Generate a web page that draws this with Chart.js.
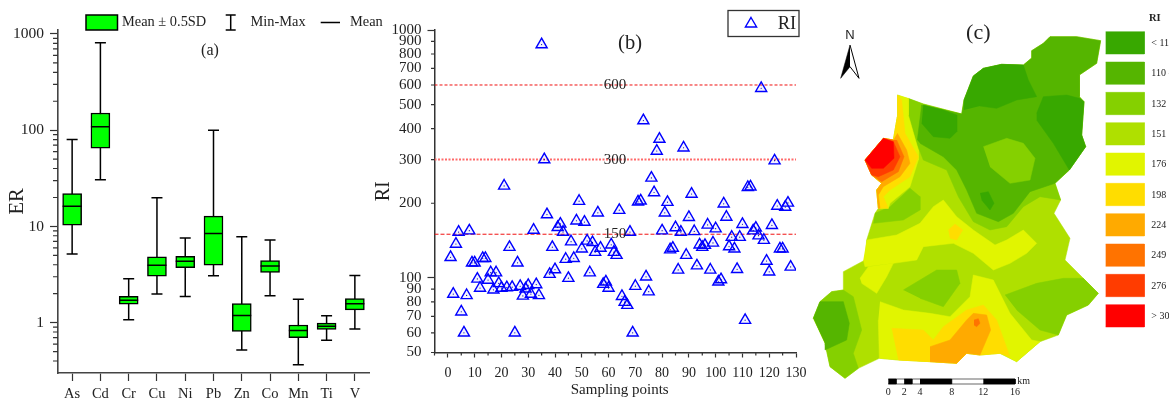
<!DOCTYPE html>
<html>
<head>
<meta charset="utf-8">
<script src="https://cdn.jsdelivr.net/npm/chart.js@4"></script>
<style>
html, body { margin: 0; background: #fff; overflow: hidden; }
canvas { position: absolute; left: 0; top: 0; filter: blur(0.3px); }
</style>
</head>
<body>
<canvas id="chartA" width="1169" height="400"></canvas>
<canvas id="chartB" width="1169" height="400"></canvas>
<canvas id="chartC" width="1169" height="400"></canvas>
<script>
// panel (a) - ER per element
var elements = ['As', 'Cd', 'Cr', 'Cu', 'Ni', 'Pb', 'Zn', 'Co', 'Mn', 'Ti', 'V'];
var erMin = [5.18, 30.6, 1.07, 1.99, 1.87, 3.07, 0.519, 1.9, 0.366, 0.658, 0.86];
var erMax = [80, 809, 2.86, 19.9, 7.57, 100, 7.81, 7.21, 1.75, 1.18, 3.1];
var erLow = [10.3, 65, 1.56, 3.05, 3.72, 3.96, 0.81, 3.32, 0.7, 0.853, 1.36];
var erHigh = [22, 151, 1.88, 4.82, 4.9, 12.8, 1.58, 4.42, 0.946, 0.99, 1.78];
var erMean = [16.2, 108.6, 1.71, 3.96, 4.35, 8.45, 1.19, 3.89, 0.83, 0.92, 1.57];
var erMajorTicks = [1, 10, 100, 1000];
var erMinorTicks = [0.4, 0.5, 0.6, 0.7, 0.8, 0.9, 2, 3, 4, 5, 6, 7, 8, 9, 20, 30, 40, 50, 60, 70, 80, 90, 200, 300, 400, 500, 600, 700, 800, 900];

// panel (b) - RI for sampling points 1..128
var riValues = [
	121, 86, 137, 153, 73, 60, 85, 155, 115, 115,
	99, 91, 120, 120, 98, 105, 89.5, 105, 95, 91,
	235, 91.4, 133, 91.7, 60, 115, 92.5, 84.6, 90.3, 93.4,
	86, 156, 94, 85, 873, 300, 180, 103.5, 133, 108,
	160, 165, 153, 119, 99.7, 140, 120, 170, 204, 131,
	168, 141, 105, 139, 127, 183, 132, 94.3, 96.4, 91,
	136, 127, 123.5, 187.5, 84.3, 79.8, 77.6, 153, 60, 92.6,
	202.6, 204.5, 431, 101, 88, 253, 221, 325, 363, 155,
	183, 202, 130, 132, 159.5, 107.7, 153, 335, 123.5, 175.6,
	218, 154, 112, 136, 133, 135.5, 163.6, 107.7, 138.4, 158,
	96.4, 98.5, 199, 176, 133.7, 146, 131, 108.3, 146, 164.6,
	67.5, 232, 233, 155, 159, 148, 582, 142, 117, 105.8,
	163, 297, 195, 131, 131, 193, 200.6, 110.7
];
var riLabelled = [50, 60, 70, 80, 90, 100, 200, 300, 400, 500, 600, 700, 800, 900, 1000];
var riLongTicks = [100, 1000];
var riLevels = [600, 300, 150];
var riXTicksMinor = [-5, 5, 15, 25, 35, 45, 55, 65, 75, 85, 95, 105, 115, 125];

// panel (c) - risk map, outlines are in map units
var mapColors = {
	c110: '#38a800', c132: '#55b500', c151: '#85d000', c176: '#afe000', c198: '#e1f500',
	c224: '#ffdd00', c249: '#ffaa00', c276: '#ff7300', c300: '#ff3c00', c301: '#ff0000'
};
var mapOutline = [[262,285],[340,312],[455,342],[462,300],[490,228],[520,205],[575,193],[640,195],[664,175],[665,152],[700,130],[720,110],[800,110],[872,122],[860,190],[808,225],[808,290],[822,305],[815,405],[827,440],[778,510],[735,550],[752,600],[732,640],[780,715],[765,780],[820,835],[865,880],[835,915],[770,945],[745,1005],[690,1025],[620,1085],[570,1060],[510,1065],[470,1060],[440,1090],[360,1085],[265,1080],[208,1075],[145,1105],[105,1135],[60,1100],[45,1030],[10,955],[30,905],[65,875],[100,870],[100,815],[165,780],[170,720],[195,640],[205,625],[200,570],[215,550],[185,525],[165,480],[220,415],[250,420],[262,350]];
var mapBands = [
	['c176', mapOutline],
	['c151', [[295,295],[340,312],[455,342],[735,550],[752,600],[690,590],[640,620],[590,680],[540,690],[490,665],[445,590],[410,510],[340,480],[320,430],[295,350]]],
	['c151', [[195,640],[240,620],[300,565],[330,590],[330,630],[280,660],[190,670]]],
	['c151', [[280,870],[380,810],[440,810],[450,850],[400,920],[330,895]]],
	['c151', [[585,885],[680,850],[760,835],[820,835],[865,880],[835,915],[770,945],[745,1005],[690,990],[620,930]]],
	['c151', [[10,955],[30,905],[65,875],[100,870],[130,890],[155,990],[130,1060],[145,1105],[105,1135],[60,1100],[45,1030]]],
	['c132', [[322,420],[335,315],[455,342],[462,300],[490,228],[520,205],[575,193],[640,195],[664,175],[665,152],[700,130],[720,110],[800,110],[872,122],[860,190],[808,225],[808,290],[822,305],[815,405],[827,440],[778,510],[735,550],[660,575],[610,640],[565,665],[500,640],[470,570],[440,510],[400,470],[330,430]]],
	['c132', [[10,955],[30,905],[100,905],[118,970],[110,1020],[45,1050],[45,1030]]],
	['c151', [[520,440],[590,415],[640,430],[675,475],[660,540],[600,550],[540,500]]],
	['c110', [[462,330],[462,300],[490,228],[520,205],[575,193],[640,195],[655,240],[680,290],[620,300],[560,325],[510,318]]],
	['c110', [[680,340],[700,290],[770,285],[808,295],[822,305],[815,405],[827,440],[778,510],[730,430],[680,360]]],
	['c110', [[340,315],[400,330],[440,345],[440,395],[420,415],[370,410],[335,370]]],
	['c110', [[510,580],[535,575],[552,610],[540,630],[515,600]]],
	['c198', [[262,285],[295,295],[295,345],[325,450],[325,480],[300,560],[240,610],[235,625],[205,625],[200,570],[215,550],[185,525],[165,480],[220,415],[250,420],[262,350]]],
	['c198', [[170,720],[260,705],[330,670],[370,620],[400,600],[440,650],[490,690],[555,735],[590,720],[640,690],[680,730],[650,760],[600,790],[550,810],[490,760],[430,730],[340,740],[320,780],[250,790],[165,800],[160,780]]],
	['c198', [[150,835],[175,800],[250,790],[230,830],[200,880],[155,850]]],
	['c198', [[210,905],[280,930],[360,940],[420,950],[480,890],[490,825],[550,840],[580,900],[600,940],[665,1020],[690,1025],[620,1085],[570,1060],[510,1065],[470,1060],[440,1090],[360,1085],[265,1080],[208,1075],[205,960]]],
	['c224', [[262,285],[275,300],[285,400],[325,470],[300,530],[240,570],[220,590],[235,625],[205,625],[200,570],[215,550],[185,525],[165,480],[220,415],[250,420],[262,350]]],
	['c224', [[415,690],[435,672],[458,690],[440,720],[420,715]]],
	['c224', [[245,985],[340,990],[370,1020],[400,980],[470,930],[520,915],[560,960],[600,1070],[570,1060],[510,1065],[470,1060],[440,1090],[360,1085],[265,1080]]],
	['c249', [[262,400],[290,450],[300,490],[270,530],[220,560],[205,585],[210,625],[205,625],[200,570],[215,550],[185,525],[165,480],[220,415],[250,420]]],
	['c249', [[360,1040],[420,1020],[470,960],[490,940],[530,945],[542,990],[510,1065],[470,1060],[440,1090],[360,1085]]],
	['c276', [[260,420],[282,470],[265,515],[215,545],[185,525],[165,480],[220,415],[250,420]]],
	['c276', [[492,960],[505,956],[510,970],[500,980],[492,975]]],
	['c300', [[250,425],[270,470],[250,510],[205,530],[185,525],[165,480],[220,415]]],
	['c301', [[220,415],[250,425],[252,475],[220,505],[185,505],[165,480]]]
];
var legendKeys = ['c110', 'c132', 'c151', 'c176', 'c198', 'c224', 'c249', 'c276', 'c300', 'c301'];
var legendLabels = ['< 11', '110 -', '132 -', '151 -', '176 -', '198 -', '224 -', '249 -', '276 -', '> 30'];
var kmTicks = [0, 2, 4, 8, 12, 16];
var kmBlack = [[0, 1], [2, 3], [4, 8], [12, 16]];

var SERIF = '"Liberation Serif", "Times New Roman", serif';
var INK = '#222';

function drawTexts(chart, items) {
	var ctx = chart.ctx;
	ctx.save();
	ctx.fillStyle = INK;
	ctx.textBaseline = 'middle';
	items.forEach(function(t) {
		ctx.font = t[3];
		ctx.textAlign = t[4] || 'left';
		ctx.fillText(t[0], t[1], t[2]);
	});
	ctx.restore();
}

// Chart.js has one tick length per axis, the short ones are drawn here
function drawShortTicks(chart, scale, values, length) {
	var ctx = chart.ctx;
	ctx.save();
	ctx.strokeStyle = '#333';
	ctx.lineWidth = 1.2;
	ctx.beginPath();
	values.forEach(function(v) {
		var p = scale.getPixelForValue(v);
		if (scale.isHorizontal()) {
			ctx.moveTo(p, scale.top);
			ctx.lineTo(p, scale.top + length);
		} else {
			ctx.moveTo(scale.right, p);
			ctx.lineTo(scale.right - length, p);
		}
	});
	ctx.stroke();
	ctx.restore();
}

var boxPlugin = {
	id: 'boxParts',
	beforeDatasetsDraw: function(chart) {
		var ctx = chart.ctx, x = chart.scales.x, y = chart.scales.y;
		ctx.save();
		ctx.strokeStyle = '#000';
		ctx.lineWidth = 1.5;
		ctx.beginPath();
		elements.forEach(function(name, i) {
			var px = x.getPixelForValue(i);
			ctx.moveTo(px, y.getPixelForValue(erMin[i]));
			ctx.lineTo(px, y.getPixelForValue(erMax[i]));
			[erMin[i], erMax[i]].forEach(function(v) {
				ctx.moveTo(px - 5.5, y.getPixelForValue(v));
				ctx.lineTo(px + 5.5, y.getPixelForValue(v));
			});
		});
		ctx.stroke();
		ctx.restore();
	},
	afterDatasetsDraw: function(chart) {
		var ctx = chart.ctx, x = chart.scales.x, y = chart.scales.y;
		ctx.save();
		ctx.strokeStyle = '#000';
		ctx.lineWidth = 1.5;
		ctx.beginPath();
		elements.forEach(function(name, i) {
			var px = x.getPixelForValue(i);
			ctx.moveTo(px - 9.5, y.getPixelForValue(erMean[i]));
			ctx.lineTo(px + 9.5, y.getPixelForValue(erMean[i]));
		});
		// legend keys
		ctx.moveTo(230.7, 15);
		ctx.lineTo(230.7, 30);
		ctx.moveTo(225.7, 15);
		ctx.lineTo(235.7, 15);
		ctx.moveTo(225.7, 30);
		ctx.lineTo(235.7, 30);
		ctx.moveTo(320.7, 22.5);
		ctx.lineTo(340, 22.5);
		ctx.stroke();
		ctx.fillStyle = '#00ff00';
		ctx.fillRect(86, 15, 31.5, 15);
		ctx.strokeRect(86, 15, 31.5, 15);
		ctx.restore();
		drawShortTicks(chart, y, erMinorTicks, 5);
		drawTexts(chart, [
			['Mean \u00b1 0.5SD', 122, 22.5, '14.4px ' + SERIF],
			['Min-Max', 250.5, 22.5, '14.4px ' + SERIF],
			['Mean', 350, 22.5, '14.4px ' + SERIF],
			['(a)', 210, 51, '16px ' + SERIF, 'center']
		]);
	}
};

new Chart(document.getElementById('chartA'), {
	type: 'bar',
	data: {
		labels: elements,
		datasets: [{
			data: erLow.map(function(v, i) { return [v, erHigh[i]]; }),
			backgroundColor: '#00ff00',
			borderColor: '#000',
			borderWidth: 1.5,
			borderSkipped: false,
			barThickness: 19
		}]
	},
	options: {
		responsive: false,
		animation: false,
		layout: { padding: { left: 0, top: 30, right: 800, bottom: 0 } },
		plugins: { legend: { display: false }, tooltip: { enabled: false } },
		scales: {
			x: {
				type: 'category',
				offset: true,
				afterFit: function(s) { s.height = 27; },
				border: { color: '#444', width: 1.6 },
				grid: { drawOnChartArea: false, tickLength: 8, tickColor: '#333', tickWidth: 1.2, offset: false },
				ticks: { color: INK, padding: 4, maxRotation: 0, font: { family: SERIF, size: 14.5 } }
			},
			y: {
				type: 'logarithmic',
				min: 0.32,
				max: 1100,
				afterFit: function(s) { s.width = 58; },
				afterBuildTicks: function(s) {
					s.ticks = erMajorTicks.map(function(v) { return { value: v, major: true }; });
				},
				title: { display: true, text: 'ER', color: INK, padding: { top: 5, bottom: 0 }, font: { family: SERIF, size: 20.5 } },
				border: { color: '#444', width: 1.6 },
				grid: { drawOnChartArea: false, tickLength: 8, tickColor: '#333', tickWidth: 1.2 },
				ticks: {
					color: INK, padding: 6, autoSkip: false, font: { family: SERIF, size: 15.5 },
					callback: function(v) { return String(v); }
				}
			}
		}
	},
	plugins: [boxPlugin]
});

var riPlugin = {
	id: 'riParts',
	afterDatasetsDraw: function(chart) {
		var ctx = chart.ctx, x = chart.scales.x, y = chart.scales.y;
		drawShortTicks(chart, y, riLabelled.filter(function(v) { return riLongTicks.indexOf(v) < 0; }), 3.5);
		drawShortTicks(chart, x, riXTicksMinor, 3);
		ctx.save();
		ctx.strokeStyle = '#333';
		ctx.lineWidth = 1.3;
		ctx.strokeRect(728, 10.5, 71, 26);
		ctx.strokeStyle = '#0000ff';
		ctx.lineWidth = 1.4;
		ctx.beginPath();
		ctx.moveTo(751, 17.5);
		ctx.lineTo(756.6, 27);
		ctx.lineTo(745.4, 27);
		ctx.closePath();
		ctx.stroke();
		ctx.restore();
		var items = [
			['RI', 787, 24, '18.5px ' + SERIF, 'center'],
			['(b)', 630, 44, '20.5px ' + SERIF, 'center'],
			['Sampling points', 619.7, 390.5, '15px ' + SERIF, 'center']
		];
		riLevels.forEach(function(level) {
			items.push([String(level), 615, y.getPixelForValue(level), '15px ' + SERIF, 'center']);
		});
		drawTexts(chart, items);
	}
};

var levelStyles = [
	{ borderColor: '#f01010', borderWidth: 1, borderDash: [3, 2] },
	{ borderColor: '#ff6a6a', borderWidth: 2, borderDash: [2, 1.5] },
	{ borderColor: '#f01010', borderWidth: 1, borderDash: [4, 2] }
];
var riPoints = riValues.map(function(v, i) { return { x: i + 1, y: v }; });
var riDatasets = [
	{ data: riPoints, pointStyle: 'circle', pointRadius: 0.6, pointBackgroundColor: '#0000a0', pointBorderWidth: 0 },
	{ data: riPoints, pointStyle: 'triangle', pointRadius: 6.4, pointBackgroundColor: 'rgba(0,0,255,0.05)', pointBorderColor: '#0000ff', pointBorderWidth: 1.4 }
];
riLevels.forEach(function(level, i) {
	riDatasets.push({
		data: [{ x: -5, y: level }, { x: 130, y: level }],
		showLine: true,
		pointRadius: 0,
		borderColor: levelStyles[i].borderColor,
		borderWidth: levelStyles[i].borderWidth,
		borderDash: levelStyles[i].borderDash
	});
});

new Chart(document.getElementById('chartB'), {
	type: 'scatter',
	data: { datasets: riDatasets },
	options: {
		responsive: false,
		animation: false,
		layout: { padding: { left: 367, top: 30, right: 373, bottom: 0 } },
		plugins: { legend: { display: false }, tooltip: { enabled: false } },
		scales: {
			x: {
				type: 'linear',
				min: -5,
				max: 130,
				afterFit: function(s) { s.height = 47.5; },
				border: { color: '#333', width: 1.5 },
				grid: {
					drawOnChartArea: false, tickLength: 5, tickWidth: 1.2,
					tickColor: function(c) { return c.tick.value % 10 === 0 ? '#333' : 'transparent'; }
				},
				ticks: {
					color: INK, padding: 7, stepSize: 5, autoSkip: false, maxRotation: 0, font: { family: SERIF, size: 14 },
					callback: function(v) { return v >= 0 && v % 10 === 0 ? String(v) : ''; }
				}
			},
			y: {
				type: 'logarithmic',
				min: 50,
				max: 1000,
				afterFit: function(s) { s.width = 67.5; },
				afterBuildTicks: function(s) {
					s.ticks = riLabelled.map(function(v) { return { value: v }; });
				},
				title: { display: true, text: 'RI', color: INK, padding: { top: 5, bottom: 0 }, font: { family: SERIF, size: 20 } },
				border: { color: '#333', width: 1.5 },
				grid: {
					drawOnChartArea: false, tickLength: 7, tickWidth: 1.2,
					tickColor: function(c) { return riLongTicks.indexOf(c.tick.value) >= 0 ? '#333' : 'transparent'; }
				},
				ticks: {
					color: INK, padding: 6, autoSkip: false, font: { family: SERIF, size: 15 },
					callback: function(v) { return String(v); }
				}
			}
		}
	},
	plugins: [riPlugin]
});

function shapeDataset(points, color, lineWidth) {
	return {
		data: points.map(function(p) { return { x: p[0], y: p[1] }; }),
		showLine: true,
		fill: 'shape',
		tension: 0,
		pointRadius: 0,
		backgroundColor: color,
		borderColor: lineWidth ? '#000' : color,
		borderWidth: lineWidth || 0.5
	};
}

// Chart.js paints the first dataset last, so the bands are listed bottom up and reversed
var mapDatasets = mapBands.map(function(b) { return shapeDataset(b[1], mapColors[b[0]]); });
legendKeys.forEach(function(key, i) {
	var top = 95 + i * 91;
	mapDatasets.push(shapeDataset([[887, top], [1003, top], [1003, top + 67], [887, top + 67]], mapColors[key]));
});
function kmX(km) { return 235 + km * 23.75; }
mapDatasets.push(shapeDataset([[kmX(0), 1137], [kmX(16), 1137], [kmX(16), 1152], [kmX(0), 1152]], '#fff', 0.6));
kmBlack.forEach(function(seg) {
	mapDatasets.push(shapeDataset([[kmX(seg[0]), 1137], [kmX(seg[1]), 1137], [kmX(seg[1]), 1152], [kmX(seg[0]), 1152]], '#000'));
});
mapDatasets.push(shapeDataset([[120, 135], [147, 235], [120, 200]], '#fff', 1));
mapDatasets.push(shapeDataset([[120, 135], [92, 235], [120, 200]], '#000'));

var mapPlugin = {
	id: 'mapText',
	afterDatasetsDraw: function(chart) {
		var x = chart.scales.x, y = chart.scales.y;
		function px(v) { return x.getPixelForValue(v); }
		function py(v) { return y.getPixelForValue(v); }
		var items = [
			['(c)', px(505), py(100), '22px ' + SERIF, 'center'],
			['N', px(120), py(105), '13px "Liberation Sans", sans-serif', 'center'],
			['RI', px(1017), py(55), 'bold 10.5px ' + SERIF],
			['km', px(622), py(1143), '10px ' + SERIF]
		];
		legendLabels.forEach(function(label, i) {
			items.push([label, px(1024), py(130 + i * 91), '10px ' + SERIF]);
		});
		kmTicks.forEach(function(km) {
			items.push([String(km), px(kmX(km)), py(1178), '10px ' + SERIF, 'center']);
		});
		drawTexts(chart, items);
	}
};

new Chart(document.getElementById('chartC'), {
	type: 'scatter',
	data: { datasets: mapDatasets.reverse() },
	options: {
		responsive: false,
		animation: false,
		layout: { padding: { left: 810, top: 0, right: 0, bottom: 0 } },
		plugins: { legend: { display: false }, tooltip: { enabled: false } },
		scales: {
			x: { type: 'linear', display: false, min: 0, max: 1077 },
			y: { type: 'linear', display: false, reverse: true, min: 0, max: 1200 }
		}
	},
	plugins: [mapPlugin]
});
</script>
</body>
</html>
